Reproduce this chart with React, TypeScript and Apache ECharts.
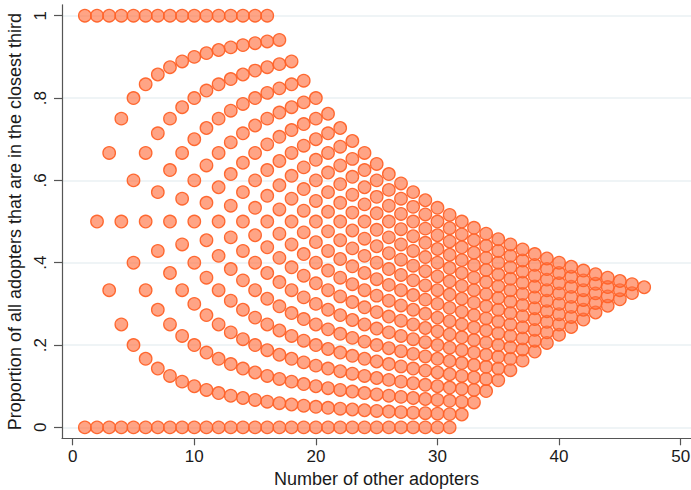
import React, { useEffect, useRef } from "react";
import * as echarts from "echarts";

// Number of other adopters (x values present in the chart)
const otherAdopters = [
  1, 2, 3, 4, 5, 6, 7, 8, 9, 10, 11, 12, 13, 14, 15, 16, 17, 18, 19, 20, 21, 22, 23, 24,
  25, 26, 27, 28, 29, 30, 31, 32, 33, 34, 35, 36, 37, 38, 39, 40, 41, 42, 43, 44, 45, 46, 47,
];
// Fewest adopters in the closest third seen for each x (lowest dot = fewest / x)
const fewestInThird = [
  0, 0, 0, 0, 0, 0, 0, 0, 0, 0, 0, 0, 0, 0, 0, 0, 0, 0, 0, 0, 0, 0, 0, 0,
  0, 0, 0, 0, 0, 0, 0, 1, 2, 3, 4, 5, 6, 7, 8, 9, 10, 11, 12, 13, 14, 15, 16,
];
// Most adopters in the closest third seen for each x (highest dot = most / x)
const mostInThird = [
  1, 2, 3, 4, 5, 6, 7, 8, 9, 10, 11, 12, 13, 14, 15, 16, 16, 16, 16, 16, 16, 16, 16, 16,
  16, 16, 16, 16, 16, 16, 16, 16, 16, 16, 16, 16, 16, 16, 16, 16, 16, 16, 16, 16, 16, 16, 16,
];

const xTicks = [0, 10, 20, 30, 40, 50];
const yTicks = [0, 0.2, 0.4, 0.6, 0.8, 1];
const yTickLabels = ["0", ".2", ".4", ".6", ".8", "1"];

const FONT = "'Liberation Sans', Arial, Helvetica, sans-serif";

export default function App() {
  const ref = useRef<HTMLDivElement>(null);
  useEffect(() => {
    if (!ref.current) return;
    const chart = echarts.init(ref.current, undefined, { renderer: "svg" });
    const points: number[][] = [];
    otherAdopters.forEach((n, i) => {
      for (let k = fewestInThird[i]; k <= mostInThird[i]; k++) {
        points.push([n, k / n]);
      }
    });
    chart.setOption({
      animation: false,
      backgroundColor: "#ffffff",
      grid: {
        left: 62,
        right: 0,
        top: 4.8,
        bottom: 51.7,
        containLabel: false,
        outerBoundsMode: "none",
      },
      xAxis: {
        type: "value",
        min: -0.88,
        max: 50.85,
        name: "Number of other adopters",
        nameLocation: "middle",
        nameGap: 30,
        nameTextStyle: { fontFamily: FONT, fontSize: 18, color: "#1a1a1a" },
        axisLine: { show: true, onZero: false, lineStyle: { color: "#555", width: 1.2 } },
        axisTick: { show: true, length: 7, customValues: xTicks, lineStyle: { color: "#555", width: 1.2 } },
        axisLabel: {
          customValues: xTicks,
          margin: 10,
          fontFamily: FONT,
          fontSize: 17,
          color: "#1a1a1a",
        },
        splitLine: { show: false },
      },
      yAxis: {
        type: "value",
        min: -0.0265,
        max: 1.0265,
        name: "Proportion of all adopters that are in the closest third",
        nameLocation: "middle",
        nameRotate: 90,
        nameGap: 32,
        nameTextStyle: { fontFamily: FONT, fontSize: 18, color: "#1a1a1a" },
        axisLine: { show: true, onZero: false, lineStyle: { color: "#555", width: 1.2 } },
        axisTick: { show: true, length: 8, customValues: yTicks, lineStyle: { color: "#555", width: 1.2 } },
        axisLabel: {
          customValues: yTicks,
          rotate: 90,
          align: "center",
          verticalAlign: "bottom",
          margin: 13,
          fontFamily: FONT,
          fontSize: 17,
          color: "#1a1a1a",
          formatter: (v: number) => {
            const idx = yTicks.findIndex((t) => Math.abs(t - v) < 1e-9);
            return idx >= 0 ? yTickLabels[idx] : "";
          },
        },
        splitLine: { show: false },
      },
      series: [
        {
          type: "scatter",
          data: points,
          symbol: "circle",
          symbolSize: 12.5,
          itemStyle: {
            color: "rgba(255,112,64,0.64)",
            borderColor: "rgba(255,98,40,0.95)",
            borderWidth: 1.3,
            opacity: 1,
          },
          markLine: {
            silent: true,
            symbol: ["none", "none"],
            label: { show: false },
            lineStyle: { color: "#eaf1f3", width: 1.5, type: "solid" },
            data: yTicks.map((t) => ({ yAxis: t })),
            z: 0,
          },
          z: 2,
        },
      ],
    });
    return () => chart.dispose();
  }, []);
  return (
    <div
      ref={ref}
      style={{ position: "fixed", left: 0, top: 0, width: 691, height: 490, background: "#fff" }}
    />
  );
}
